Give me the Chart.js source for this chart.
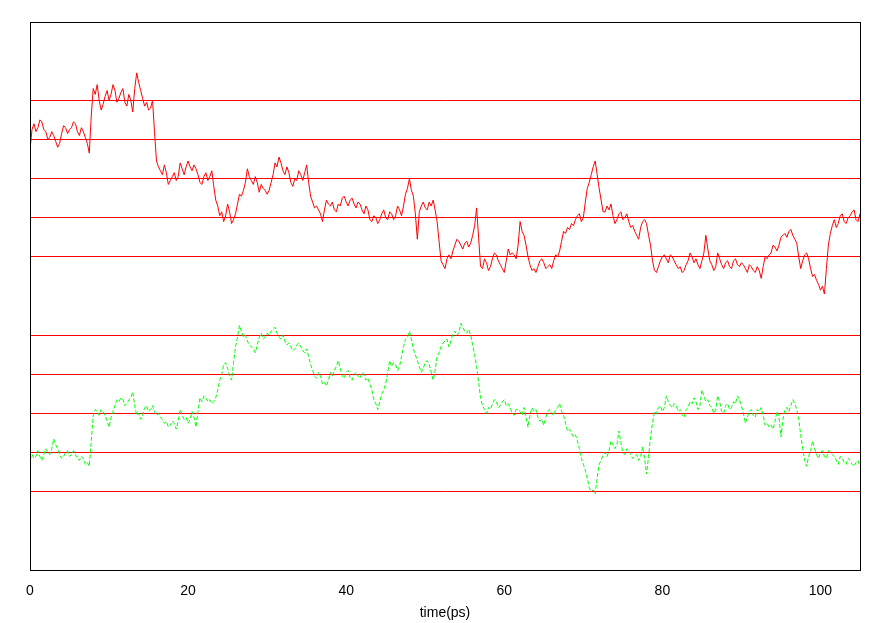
<!DOCTYPE html>
<html>
<head>
<meta charset="utf-8">
<script src="https://cdn.jsdelivr.net/npm/chart.js@4/dist/chart.umd.min.js"></script>
<style>
  html, body { margin: 0; padding: 0; background: #fff; }
  #wrap { width: 890px; height: 623px; position: relative; }
</style>
</head>
<body>
<div id="wrap"><canvas id="chart"></canvas></div>
<script>
// samples every 0.5 ps, plus in-between samples at +0.25 ps
const step = 0.5

const xTicks = [0, 20, 40, 60, 80, 100]
const refLines = [2, 3, 4, 5, 6, 8, 9, 10, 11, 12]

// upper trace (red) at t = 0, 0.5, ... 105
const upper = [
  10.73, 11.4, 11.3, 11.45, 11.2, 11.05, 11.1, 10.8, 11.15, 11.3,
  11.25, 11.45, 11.2, 11.3, 11.05, 10.65, 12.3, 12.4, 11.75, 12.1,
  12.0, 12.4, 11.95, 12.2, 11.95, 12.15, 11.7, 12.7, 12.25, 11.85,
  11.75, 12.0, 10.45, 10.2, 10.35, 9.85, 10.05, 9.95, 10.4, 10.1,
  10.45, 10.2, 10.25, 9.9, 10.05, 9.95, 10.2, 9.45, 9.05, 8.9,
  9.35, 8.85, 9.1, 9.6, 9.7, 10.25, 9.95, 10.05, 9.65, 9.75,
  9.6, 9.9, 10.4, 10.55, 10.2, 10.3, 9.9, 10.0, 10.2, 9.95,
  10.35, 9.55, 9.25, 9.2, 8.9, 9.45, 9.3, 9.2, 9.35, 9.5,
  9.4, 9.45, 9.35, 9.4, 9.2, 9.3, 8.95, 9.05, 8.85, 9.1,
  9.0, 9.15, 8.95, 9.3, 9.05, 9.6, 10.0, 9.55, 8.45, 9.3,
  9.25, 9.4, 9.45, 8.9, 7.9, 7.7, 8.05, 8.15, 8.45, 8.3,
  8.35, 8.25, 8.55, 9.25, 7.75, 7.95, 7.65, 7.95, 8.05, 7.8,
  7.6, 8.2, 8.1, 7.95, 8.9, 8.55, 8.0, 7.65, 7.6, 7.9,
  7.85, 7.75, 7.7, 8.05, 8.15, 8.65, 8.75, 8.85, 8.95, 9.1,
  9.0, 9.75, 10.1, 10.45, 9.75, 9.15, 9.3, 9.35, 8.85, 9.1,
  8.95, 9.1, 8.75, 8.65, 8.45, 8.9, 8.85, 8.3, 7.65, 7.75,
  8.0, 7.95, 8.05, 7.9, 7.7, 7.6, 7.8, 8.1, 7.85, 7.8,
  7.9, 8.55, 7.9, 7.65, 8.1, 7.8, 7.85, 7.75, 7.9, 7.8,
  7.85, 7.7, 7.8, 7.65, 7.75, 7.45, 8.0, 8.05, 8.3, 8.15,
  8.5, 8.6, 8.65, 8.55, 8.35, 7.7, 8.05, 7.95, 7.5, 7.4,
  7.15, 7.05, 8.3, 8.8, 8.75, 9.05, 8.9, 9.0, 9.15, 8.95,
  9.1
]
// upper trace at t = 0.25, 0.75, ... 104.75
const upperMid = [
  11.25, 11.2, 11.5, 11.25, 11.0, 11.2, 10.95, 10.9, 11.35, 11.15,
  11.3, 11.4, 11.1, 11.2, 10.9, 11.6, 12.15, 12.0, 11.9, 12.25,
  12.15, 12.25, 12.05, 12.3, 11.85, 12.0, 12.3, 12.45, 12.05, 11.95,
  11.8, 11.2, 10.3, 10.1, 10.15, 9.95, 10.15, 10.05, 10.25, 10.3,
  10.3, 10.35, 10.1, 9.85, 10.15, 10.05, 9.8, 9.3, 9.15, 9.05,
  9.15, 8.95, 9.35, 9.55, 9.9, 10.05, 9.85, 9.9, 9.85, 9.7,
  9.7, 10.1, 10.3, 10.4, 10.1, 10.15, 9.8, 9.95, 10.1, 10.15,
  9.9, 9.4, 9.3, 9.1, 9.2, 9.35, 9.4, 9.15, 9.3, 9.55,
  9.3, 9.5, 9.25, 9.35, 9.1, 9.2, 8.9, 9.0, 8.95, 9.2,
  8.95, 9.1, 9.05, 9.2, 9.3, 9.75, 9.7, 9.1, 9.15, 9.4,
  9.2, 9.3, 9.2, 8.4, 7.8, 7.95, 7.95, 8.3, 8.4, 8.2,
  8.4, 8.35, 8.8, 8.5, 7.7, 7.85, 7.75, 8.1, 7.9, 7.7,
  7.9, 8.05, 8.05, 8.3, 8.65, 8.3, 7.8, 7.7, 7.75, 7.95,
  7.7, 7.8, 7.9, 8.0, 8.4, 8.6, 8.7, 8.8, 9.05, 8.9,
  9.4, 9.9, 10.3, 10.1, 9.45, 9.15, 9.2, 9.05, 8.95, 9.15,
  9.0, 8.9, 8.8, 8.55, 8.75, 8.95, 8.55, 7.9, 7.6, 7.9,
  8.05, 7.85, 8.0, 7.8, 7.75, 7.65, 7.9, 8.0, 7.95, 7.7,
  8.1, 8.2, 7.8, 7.75, 7.95, 7.7, 7.9, 7.7, 7.95, 7.75,
  7.8, 7.6, 7.75, 7.6, 7.65, 7.75, 7.95, 8.1, 8.25, 8.3,
  8.55, 8.5, 8.7, 8.45, 8.0, 7.9, 8.1, 7.7, 7.55, 7.3,
  7.25, 7.7, 8.6, 8.95, 8.85, 9.1, 8.85, 9.05, 9.2, 8.9
]

// lower trace (green, dashed) at t = 0, 0.5, ... 105
const lower = [
  2.8, 2.85, 3.05, 2.8, 3.1, 2.95, 3.35, 3.1, 2.85, 3.0,
  2.9, 3.05, 2.85, 2.9, 2.7, 2.65, 3.95, 4.05, 4.1, 3.95,
  3.65, 4.05, 4.35, 4.4, 4.2, 4.35, 4.55, 3.95, 3.85, 4.15,
  4.05, 4.2, 3.95, 3.9, 3.75, 3.65, 3.8, 3.6, 4.1, 3.85,
  3.75, 4.05, 3.65, 4.4, 4.45, 4.3, 4.25, 4.4, 4.85, 5.25,
  5.15, 4.85, 5.7, 6.25, 5.95, 5.85, 5.7, 5.55, 5.95, 5.9,
  6.05, 6.1, 6.2, 5.95, 6.0, 5.75, 5.7, 5.65, 5.8, 5.6,
  5.65, 5.25, 4.95, 5.05, 4.75, 4.7, 5.05, 5.1, 5.35, 4.95,
  5.05, 4.9, 5.0, 4.95, 5.05, 4.85, 4.75, 4.35, 4.1, 4.5,
  4.75, 5.35, 5.3, 5.1, 5.45, 5.9, 6.1, 5.65, 5.35, 5.05,
  5.3, 5.25, 4.85, 5.45, 5.7, 5.85, 5.7, 6.05, 6.0, 6.3,
  6.1, 6.15, 5.75, 5.2, 4.4, 4.1, 4.15, 4.25, 4.3, 4.2,
  4.35, 4.25, 4.0, 4.1, 4.05, 4.15, 3.65, 4.15, 4.1, 3.8,
  3.7, 4.05, 4.0, 4.1, 4.25, 3.95, 3.55, 3.5, 3.45, 3.1,
  2.7, 2.35, 2.0, 1.95, 2.7, 2.95, 2.9, 3.3, 3.1, 3.55,
  3.0, 3.1, 2.95, 2.9, 2.8, 3.15, 2.45, 3.4, 4.05, 4.15,
  4.05, 4.45, 4.2, 4.25, 4.05, 3.95, 4.1, 4.3, 4.4, 4.1,
  4.6, 4.3, 4.2, 4.0, 4.45, 4.05, 4.2, 4.1, 4.3, 4.45,
  4.2, 3.75, 4.05, 3.95, 4.1, 4.15, 3.7, 3.65, 3.6, 4.05,
  3.4, 4.1, 4.05, 4.35, 4.1, 3.45, 2.8, 2.9, 3.3, 2.95,
  3.0, 2.9, 3.05, 2.95, 2.8, 2.9, 2.75, 2.85, 2.7, 2.75,
  2.65
]
// lower trace at t = 0.25, 0.75, ... 104.75
const lowerMid = [
  2.95, 2.9, 2.9, 2.95, 3.0, 3.1, 3.2, 2.95, 2.9, 3.05,
  2.95, 2.95, 2.8, 2.85, 2.75, 3.3, 4.1, 3.95, 4.05, 3.8,
  3.9, 4.2, 4.3, 4.35, 4.25, 4.4, 4.2, 4.0, 3.95, 4.2,
  4.1, 4.05, 4.0, 3.85, 3.8, 3.7, 3.75, 3.8, 3.95, 3.9,
  3.85, 3.9, 4.05, 4.3, 4.4, 4.35, 4.3, 4.6, 5.0, 5.3,
  4.95, 5.3, 5.95, 6.1, 6.0, 5.75, 5.65, 5.75, 6.05, 5.95,
  6.0, 6.15, 6.05, 5.9, 5.85, 5.8, 5.6, 5.75, 5.7, 5.55,
  5.45, 5.1, 4.9, 4.95, 4.8, 4.85, 4.95, 5.2, 5.15, 4.9,
  5.1, 4.85, 5.05, 4.9, 5.0, 4.9, 4.6, 4.25, 4.3, 4.6,
  5.05, 5.2, 5.25, 5.2, 5.7, 5.95, 5.9, 5.5, 5.2, 5.15,
  5.35, 5.05, 5.1, 5.55, 5.8, 5.9, 5.85, 6.1, 6.05, 6.2,
  6.05, 6.0, 5.5, 4.8, 4.2, 4.0, 4.1, 4.35, 4.15, 4.3,
  4.2, 4.15, 3.95, 4.1, 3.95, 3.9, 3.95, 4.05, 3.9, 3.85,
  3.9, 4.1, 3.95, 4.15, 4.05, 3.75, 3.6, 3.4, 3.3, 2.85,
  2.55, 2.1, 2.05, 2.35, 2.8, 3.0, 3.05, 3.2, 3.2, 3.25,
  2.95, 3.05, 2.85, 2.95, 2.9, 2.85, 2.9, 3.75, 4.0, 4.2,
  4.15, 4.3, 4.15, 4.2, 4.1, 3.9, 4.15, 4.25, 4.3, 4.2,
  4.45, 4.35, 4.15, 4.1, 4.3, 4.0, 4.25, 4.15, 4.25, 4.35,
  4.0, 3.9, 4.1, 3.9, 4.05, 3.95, 3.75, 3.7, 3.8, 3.9,
  3.85, 4.15, 4.2, 4.25, 3.85, 3.1, 2.65, 3.05, 3.1, 2.85,
  3.05, 2.85, 3.0, 2.9, 2.7, 2.85, 2.7, 2.8, 2.65, 2.8
]

// merge the whole-step and half-step samples into one {x, y} series
const merge = (main, mid) => {
  const pts = []
  main.forEach((y, i) => {
    pts.push({ x: i * step, y })
    if (i < mid.length) pts.push({ x: i * step + step / 2, y: mid[i] })
  })
  return pts
}

// box around the plot area (gnuplot style frame)
const frame = {
  id: "frame",
  afterDraw(chart) {
    const { ctx, chartArea: a } = chart
    ctx.save()
    ctx.strokeStyle = "#000"
    ctx.lineWidth = 1
    ctx.strokeRect(Math.round(a.left) + 0.5, Math.round(a.top) + 0.5,
      Math.round(a.right - a.left), Math.round(a.bottom - a.top))
    ctx.restore()
  }
}

new Chart(document.getElementById("chart"), {
  type: "line",
  data: {
    datasets: [{
      data: merge(upper, upperMid),
      borderColor: "#ff0000",
      borderWidth: 1,
      pointRadius: 0,
      tension: 0
    }, {
      data: merge(lower, lowerMid),
      borderColor: "#00ff00",
      borderWidth: 1,
      borderDash: [4, 2],
      pointRadius: 0,
      tension: 0
    }]
  },
  options: {
    responsive: true,
    maintainAspectRatio: false,
    animation: false,
    layout: { padding: { top: 22, right: 30, bottom: 0, left: 0 } },
    plugins: { legend: { display: false }, tooltip: { enabled: false } },
    scales: {
      x: {
        type: "linear",
        min: 0,
        max: 105,
        afterBuildTicks: axis => { axis.ticks = xTicks.map(value => ({ value })) },
        afterFit: axis => { axis.height = 53 },
        grid: { display: false, drawTicks: false },
        border: { display: true, color: "#000" },
        ticks: { color: "#000", padding: 13, maxRotation: 0, font: { family: "Liberation Sans", size: 14 } },
        title: { display: true, text: "time(ps)", color: "#000", font: { family: "Liberation Sans", size: 14 }, padding: { top: 0, bottom: 1 } }
      },
      y: {
        min: 0,
        max: 14,
        afterBuildTicks: axis => { axis.ticks = refLines.map(value => ({ value })) },
        afterFit: axis => { axis.width = 30 },
        grid: { color: "#ff0000", lineWidth: 1, drawTicks: false },
        border: { display: true, color: "#000" },
        ticks: { display: false }
      }
    }
  },
  plugins: [frame]
})
</script>
</body>
</html>
